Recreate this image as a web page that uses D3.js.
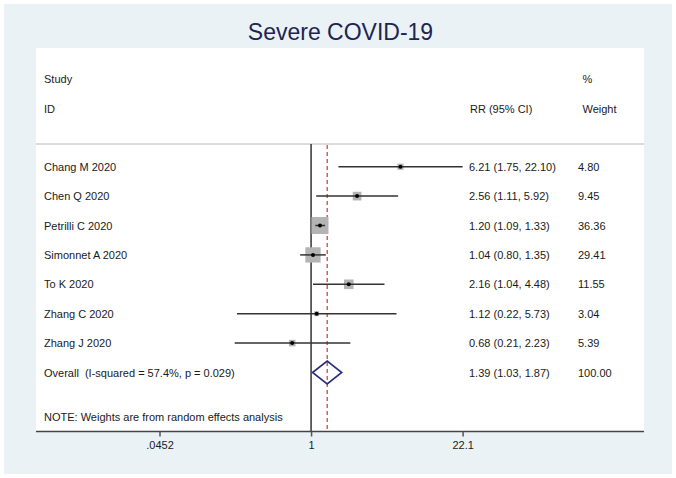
<!DOCTYPE html>
<html>
<head>
<meta charset="utf-8">
<script src="https://cdn.jsdelivr.net/npm/d3@7"></script>
<style>
  html, body { margin: 0; padding: 0; background: #ffffff; }
  svg { display: block; }
  text { font-family: "Liberation Sans", Arial, sans-serif; white-space: pre; }
</style>
</head>
<body>
<svg id="chart" width="676" height="478"></svg>
<script>
// ---------- data ----------
const studies = ["Chang M 2020", "Chen Q 2020", "Petrilli C 2020", "Simonnet A 2020", "To K 2020", "Zhang C 2020", "Zhang J 2020"];
const rr      = [6.21, 2.56, 1.20, 1.04, 2.16, 1.12, 0.68];
const ciLow   = [1.75, 1.11, 1.09, 0.80, 1.04, 0.22, 0.21];
const ciHigh  = [22.10, 5.92, 1.33, 1.35, 4.48, 5.73, 2.23];
const weights = [4.80, 9.45, 36.36, 29.41, 11.55, 3.04, 5.39];
const overallLabel = "Overall  (I-squared = 57.4%, p = 0.029)";
const overall = { rr: 1.39, lo: 1.03, hi: 1.87, weight: 100.00 };
const tickValues = [0.0452, 1, 22.1];
const tickLabels = [".0452", "1", "22.1"];
const title = "Severe COVID-19";
const note = "NOTE: Weights are from random effects analysis";

// ---------- layout ----------
const svg = d3.select("#chart");
const panel = { x0: 36, x1: 644, y0: 48, y1: 431.5 };
const topLine = 144;
const fmt2 = d3.format(".2f");

svg.append("rect").attr("x", 4).attr("y", 4).attr("width", 668).attr("height", 470).attr("fill", "#eaf2f6");
svg.append("rect").attr("x", panel.x0).attr("y", panel.y0).attr("width", panel.x1 - panel.x0).attr("height", panel.y1 - panel.y0).attr("fill", "#ffffff");

svg.append("text").attr("x", 340.5).attr("y", 39.5).attr("text-anchor", "middle")
  .attr("font-size", 23).attr("fill", "#1e2550").text(title);

const x = d3.scaleLog().domain([tickValues[0], tickValues[2]]).range([159.5, 462.6]);
const rowNames = studies.concat([overallLabel]);
const y = d3.scalePoint().domain(rowNames).range([166.7, 372.5]);

const txt = "#1a1a1a";
const fs = 11;

// headers
const hdr = svg.append("g").attr("font-size", fs).attr("fill", txt);
hdr.append("text").attr("x", 44).attr("y", 82.5).text("Study");
hdr.append("text").attr("x", 44).attr("y", 112.5).text("ID");
hdr.append("text").attr("x", 470).attr("y", 112.5).text("RR (95% CI)");
hdr.append("text").attr("x", 582.5).attr("y", 82.5).text("%");
hdr.append("text").attr("x", 582.5).attr("y", 112.5).text("Weight");

// separator
svg.append("line").attr("x1", panel.x0).attr("x2", panel.x1).attr("y1", topLine).attr("y2", topLine)
  .attr("stroke", "#b8b8b8").attr("stroke-width", 1);

// no-effect line
svg.append("line").attr("x1", x(1)).attr("x2", x(1)).attr("y1", topLine).attr("y2", panel.y1)
  .attr("stroke", "#333333").attr("stroke-width", 1.5);

// overall dashed line
svg.append("line").attr("x1", x(overall.rr)).attr("x2", x(overall.rr)).attr("y1", topLine + 1).attr("y2", panel.y1)
  .attr("stroke", "#c8372f").attr("stroke-width", 1.2).attr("stroke-dasharray", "4,3");

// studies
const data = studies.map((s, i) => ({ s, rr: rr[i], lo: ciLow[i], hi: ciHigh[i], w: weights[i] }));
const g = svg.append("g");
const sideK = 2.82;
data.forEach(d => {
  const cy = y(d.s);
  const side = sideK * Math.sqrt(d.w);
  g.append("rect").attr("x", x(d.rr) - side / 2).attr("y", cy - side / 2)
    .attr("width", side).attr("height", side).attr("fill", "#b4b4b4");
  g.append("line").attr("x1", x(d.lo)).attr("x2", x(d.hi)).attr("y1", cy).attr("y2", cy)
    .attr("stroke", "#333333").attr("stroke-width", 1.5);
  g.append("circle").attr("cx", x(d.rr)).attr("cy", cy).attr("r", 2).attr("fill", "#000");
  g.append("text").attr("x", 44).attr("y", cy + 4).attr("font-size", fs).attr("fill", txt).text(d.s);
  g.append("text").attr("x", 469).attr("y", cy + 4).attr("font-size", fs).attr("fill", txt)
    .text(`${fmt2(d.rr)} (${fmt2(d.lo)}, ${fmt2(d.hi)})`);
  g.append("text").attr("x", 578).attr("y", cy + 4).attr("font-size", fs).attr("fill", txt).text(fmt2(d.w));
});

// overall diamond
const oy = y(overallLabel);
const dh = 11.5;
svg.append("path")
  .attr("d", `M${x(overall.lo)},${oy} L${x(overall.rr)},${oy - dh} L${x(overall.hi)},${oy} L${x(overall.rr)},${oy + dh} Z`)
  .attr("fill", "none").attr("stroke", "#2b2d78").attr("stroke-width", 1.6);
svg.append("text").attr("x", 44).attr("y", oy + 4).attr("font-size", fs).attr("fill", txt).text(overallLabel);
svg.append("text").attr("x", 469).attr("y", oy + 4).attr("font-size", fs).attr("fill", txt)
  .text(`${fmt2(overall.rr)} (${fmt2(overall.lo)}, ${fmt2(overall.hi)})`);
svg.append("text").attr("x", 578).attr("y", oy + 4).attr("font-size", fs).attr("fill", txt).text(fmt2(overall.weight));

// note
svg.append("text").attr("x", 44).attr("y", 420.5).attr("font-size", fs).attr("fill", txt).text(note);

// axis
svg.append("line").attr("x1", panel.x0).attr("x2", panel.x1).attr("y1", panel.y1).attr("y2", panel.y1)
  .attr("stroke", "#444444").attr("stroke-width", 1.5);
const axis = d3.axisBottom(x).tickValues(tickValues)
  .tickFormat((d, i) => tickLabels[i]).tickSize(5).tickPadding(5);
const ag = svg.append("g").attr("transform", `translate(0,${panel.y1})`).call(axis);
ag.select(".domain").remove();
ag.selectAll(".tick line").attr("stroke", "#555555").attr("stroke-width", 1.5);
ag.selectAll(".tick text").attr("font-size", fs).attr("fill", txt)
  .attr("font-family", "'Liberation Sans', Arial, sans-serif");
</script>
</body>
</html>
